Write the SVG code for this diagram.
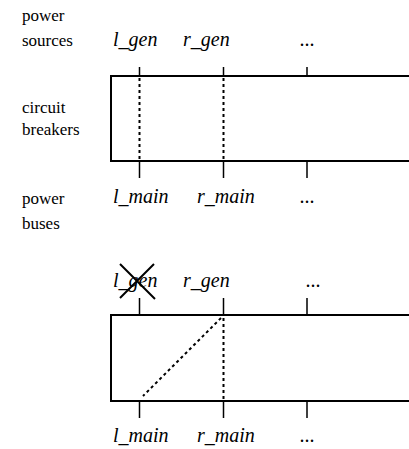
<svg xmlns="http://www.w3.org/2000/svg" width="409" height="449" viewBox="0 0 409 449">
<rect width="409" height="449" fill="#fff"/>
<g id="row-labels" transform="translate(22,0) scale(0.85)">
<text x="0" y="24.7" font-family="Liberation Serif" font-size="20" style="font-family:'Liberation Serif',serif">power</text>
<text x="0" y="54.1" font-family="Liberation Serif" font-size="20" style="font-family:'Liberation Serif',serif">sources</text>
<text x="0" y="132.9" font-family="Liberation Serif" font-size="20" style="font-family:'Liberation Serif',serif">circuit</text>
<text x="0" y="158.8" font-family="Liberation Serif" font-size="20" style="font-family:'Liberation Serif',serif">breakers</text>
<text x="0" y="240" font-family="Liberation Serif" font-size="20" style="font-family:'Liberation Serif',serif">power</text>
<text x="0" y="269.4" font-family="Liberation Serif" font-size="20" style="font-family:'Liberation Serif',serif">buses</text>
</g>
<g id="panel1">
<rect x="111" y="76" width="320" height="85" fill="#fff" stroke="#000" stroke-width="2"/>
<text x="113" y="46" font-family="Liberation Serif" font-size="20" font-style="italic" style="font-family:'Liberation Serif',serif">l_gen</text>
<text x="183" y="46" font-family="Liberation Serif" font-size="20" font-style="italic" style="font-family:'Liberation Serif',serif">r_gen</text>
<text x="300" y="46" font-family="Liberation Serif" font-size="20" font-style="italic" style="font-family:'Liberation Serif',serif">...</text>
<text x="113" y="203" font-family="Liberation Serif" font-size="20" font-style="italic" style="font-family:'Liberation Serif',serif">l_main</text>
<text x="197" y="203" font-family="Liberation Serif" font-size="20" font-style="italic" style="font-family:'Liberation Serif',serif">r_main</text>
<text x="300" y="203" font-family="Liberation Serif" font-size="20" font-style="italic" style="font-family:'Liberation Serif',serif">...</text>
</g>
<g id="panel2">
<rect x="111" y="315" width="320" height="86" fill="#fff" stroke="#000" stroke-width="2"/>
<text x="113" y="287" font-family="Liberation Serif" font-size="20" font-style="italic" style="font-family:'Liberation Serif',serif">l_gen</text>
<text x="183" y="287" font-family="Liberation Serif" font-size="20" font-style="italic" style="font-family:'Liberation Serif',serif">r_gen</text>
<text x="306" y="287" font-family="Liberation Serif" font-size="20" font-style="italic" style="font-family:'Liberation Serif',serif">...</text>
<text x="113" y="442" font-family="Liberation Serif" font-size="20" font-style="italic" style="font-family:'Liberation Serif',serif">l_main</text>
<text x="197" y="442" font-family="Liberation Serif" font-size="20" font-style="italic" style="font-family:'Liberation Serif',serif">r_main</text>
<text x="300" y="442" font-family="Liberation Serif" font-size="20" font-style="italic" style="font-family:'Liberation Serif',serif">...</text>
</g>
<g id="connectors" fill="none" stroke="#000">
<path stroke-width="1.5" d="M139.5 67V76M223.5 67V76M307 67V76M139.5 161V178M223.5 161V178M307 161V178"/>
<path stroke-width="2" stroke-dasharray="3 3" d="M139.5 78V160M223.5 78V160"/>
<path stroke-width="1.5" d="M139.5 298V315M223.5 298V315M307 298V315M139.5 401V418M223.5 401V418M307 401V418"/>
<path stroke-width="2" stroke-dasharray="3 3" d="M223.5 318V400M221 318L143 396"/>
<path stroke-width="2" d="M120 264L155 299M154 264L120 298"/>
</g>
</svg>
